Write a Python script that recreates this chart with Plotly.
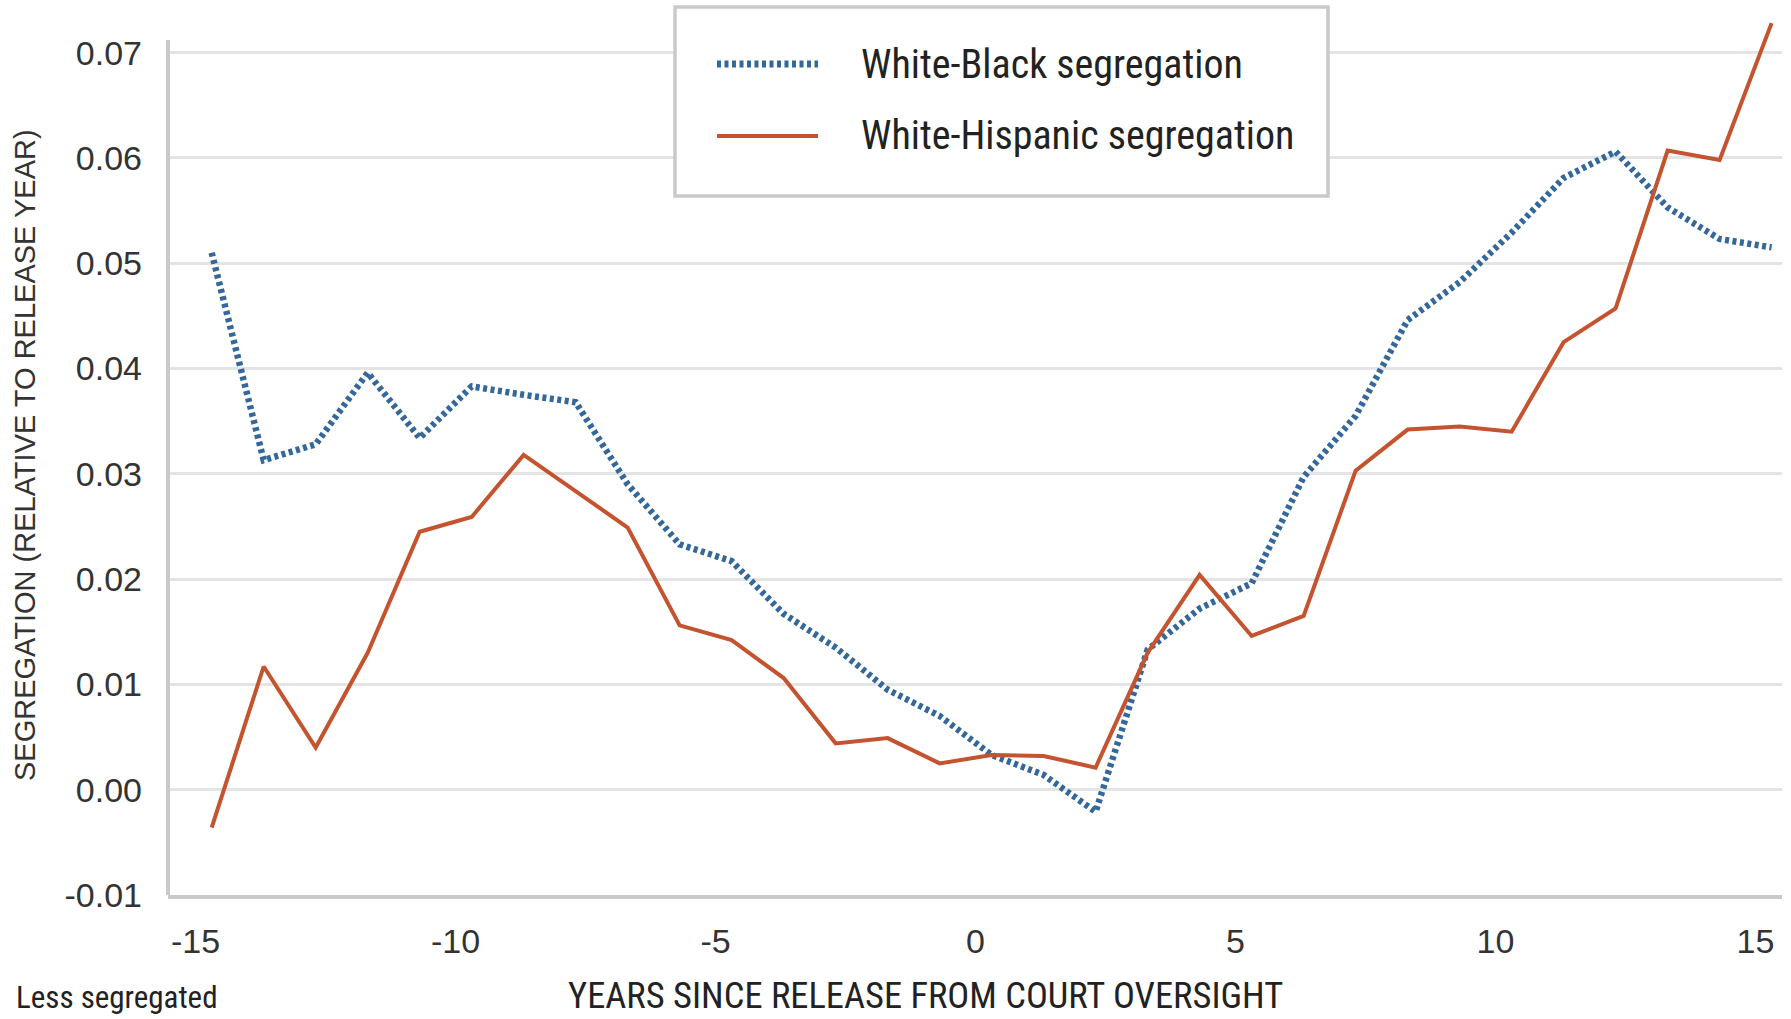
import plotly.graph_objects as go

# ---------------- data ----------------
years = list(range(-15, 16))
white_black = [0.0510, 0.0313, 0.0328, 0.0396, 0.0334, 0.0383, 0.0375, 0.0368, 0.0290, 0.0233,
               0.0217, 0.0167, 0.0135, 0.0095, 0.0070, 0.0033, 0.0014, -0.0021, 0.0133, 0.0172,
               0.0196, 0.0297, 0.0355, 0.0446, 0.0482, 0.0529, 0.0581, 0.0606, 0.0553, 0.0523,
               0.0515]
white_hispanic = [-0.0036, 0.0117, 0.0040, 0.0130, 0.0245, 0.0259, 0.0318, 0.0284, 0.0249, 0.0156,
                  0.0142, 0.0106, 0.0044, 0.0049, 0.0025, 0.0033, 0.0032, 0.0021, 0.0130, 0.0204,
                  0.0146, 0.0165, 0.0303, 0.0342, 0.0345, 0.0340, 0.0425, 0.0457, 0.0607, 0.0598,
                  0.0728]
series_names = ["White-Black segregation", "White-Hispanic segregation"]
x_tick_years = [-15, -10, -5, 0, 5, 10, 15]
y_tick_values = [-0.01, 0.00, 0.01, 0.02, 0.03, 0.04, 0.05, 0.06, 0.07]
x_title = "YEARS SINCE RELEASE FROM COURT OVERSIGHT"
y_title = "SEGREGATION (RELATIVE TO RELEASE YEAR)"
corner_note = "Less segregated"

# ---------------- style ----------------
BLUE = "#34679a"
RED = "#c4532f"
AXIS_GREY = "#c9c9c9"
GRID_GREY = "#e4e4e4"
TEXT = "#333333"
NARROW = "Liberation Sans Narrow, Arial Narrow, Roboto Condensed, Liberation Sans, sans-serif"
SANS = "Liberation Sans, Arial, sans-serif"
BLUE_DASH = "4px,3.5px"
TICK_SHIFT = -0.31  # category-style label offset seen in the original

W, H = 1791, 1019
ML, MT = 168, 10
PW, PH = 1614, 885
MR = W - ML - PW
MB = H - MT - PH
Y_MIN = -0.01
Y_MAX = Y_MIN + PH / 10530.0      # keeps 0.01 = 105.3 px, headroom for the last point
Y_AXIS_TOP = 0.0712               # visible y-axis line stops just above 0.07


def px_x(px):  # page px -> paper
    return (px - ML) / PW


def px_y(py):
    return (MT + PH - py) / PH


fig = go.Figure()
fig.add_trace(go.Scatter(x=years, y=white_black, mode="lines", name=series_names[0],
                         line=dict(color=BLUE, width=6.5, dash=BLUE_DASH), showlegend=False))
fig.add_trace(go.Scatter(x=years, y=white_hispanic, mode="lines", name=series_names[1],
                         line=dict(color=RED, width=4), showlegend=False))

# y-axis line (drawn as a shape so it can stop below the plot top)
fig.add_shape(type="line", xref="paper", yref="y", x0=0, x1=0, y0=Y_MIN, y1=Y_AXIS_TOP,
              line=dict(color=AXIS_GREY, width=4), layer="above")

# manual legend box
fig.add_shape(type="rect", xref="paper", yref="paper",
              x0=px_x(675), x1=px_x(1328), y0=px_y(196), y1=px_y(7),
              line=dict(color=AXIS_GREY, width=3.5), fillcolor="white", layer="above")
rows_py = [64, 136]
styles = [dict(color=BLUE, width=7, dash=BLUE_DASH), dict(color=RED, width=4)]
for name, rpy, st in zip(series_names, rows_py, styles):
    fig.add_shape(type="line", xref="paper", yref="paper",
                  x0=px_x(717), x1=px_x(818), y0=px_y(rpy), y1=px_y(rpy),
                  line=st, layer="above")
    fig.add_annotation(xref="paper", yref="paper", x=px_x(859), y=px_y(rpy),
                       xanchor="left", yanchor="middle", text=name, showarrow=False,
                       font=dict(family=NARROW, size=40, color="#222222"))

# titles
fig.add_annotation(xref="paper", yref="paper", x=px_x(925), y=px_y(996),
                   xanchor="center", yanchor="middle", text=x_title, showarrow=False,
                   font=dict(family=NARROW, size=36.5, color="#222222"))
fig.add_annotation(xref="paper", yref="paper", x=px_x(14), y=px_y(997),
                   xanchor="left", yanchor="middle", text=corner_note, showarrow=False,
                   font=dict(family=NARROW, size=31, color="#222222"))
fig.add_annotation(xref="paper", yref="paper", x=px_x(25), y=px_y(455),
                   xanchor="center", yanchor="middle", text=y_title, showarrow=False,
                   textangle=-90, font=dict(family=SANS, size=29, color=TEXT))

fig.update_layout(
    width=W, height=H,
    margin=dict(l=ML, r=MR, t=MT, b=MB, pad=0),
    paper_bgcolor="white", plot_bgcolor="white",
    showlegend=False,
    xaxis=dict(range=[-15.84, 15.2], tickvals=[t + TICK_SHIFT for t in x_tick_years],
               ticktext=[str(t) for t in x_tick_years], showgrid=False, zeroline=False,
               showline=True, linecolor=AXIS_GREY, linewidth=4, ticks="",
               ticklabelstandoff=13, tickfont=dict(family=SANS, size=34, color=TEXT)),
    yaxis=dict(range=[Y_MIN, Y_MAX], tickvals=y_tick_values,
               ticktext=[f"{v:.2f}" for v in y_tick_values], showgrid=True,
               gridcolor=GRID_GREY, gridwidth=2.5, zeroline=False,
               showline=False, ticks="",
               ticklabelstandoff=25, tickfont=dict(family=SANS, size=34, color=TEXT)),
)

# remove the browser's default page margin so the figure fills the window exactly
fig.write_html("out.html", config={"displayModeBar": False},
               post_script="document.body.style.margin='0px';document.body.style.overflow='hidden';")
